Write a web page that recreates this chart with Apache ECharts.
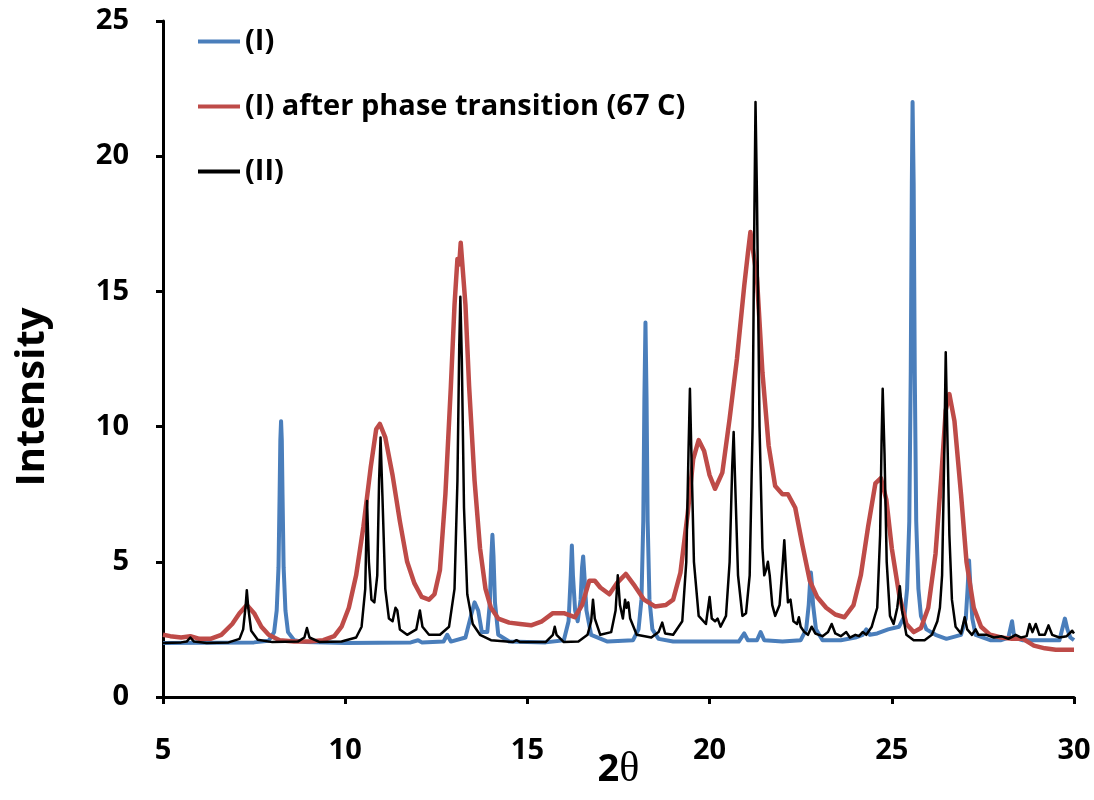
<!DOCTYPE html>
<html>
<head>
<meta charset="utf-8">
<script src="https://cdn.jsdelivr.net/npm/echarts@6/dist/echarts.min.js"></script>
<style>html,body{margin:0;padding:0;background:#fff}#c{width:1094px;height:800px}</style>
</head>
<body>
<div id="c"></div>
<script>
const seriesNames = ['(I)', '(I) after phase transition (67 C)', '(II)'];
const xTicks = [5, 10, 15, 20, 25, 30];
const yTicks = [0, 5, 10, 15, 20, 25];

const dataI = [[5.0,2.0],[7.5,2.02],[7.9,2.08],[8.05,2.4],[8.12,3.2],[8.17,4.8],[8.2,7.5],[8.22,9.5],[8.24,10.2],[8.26,9.5],[8.28,7.5],[8.31,4.8],[8.36,3.2],[8.43,2.4],[8.6,2.1],[8.9,2.03],[10.0,2.0],[11.8,2.02],[12.0,2.1],[12.1,2.02],[12.7,2.05],[12.8,2.3],[12.9,2.05],[13.3,2.2],[13.45,3.0],[13.55,3.5],[13.65,3.2],[13.75,2.4],[13.9,2.4],[13.97,3.5],[14.01,5.2],[14.04,6.0],[14.07,5.2],[14.11,3.5],[14.2,2.3],[14.5,2.05],[15.5,2.02],[16.0,2.1],[16.13,2.8],[16.19,4.5],[16.22,5.6],[16.25,4.5],[16.31,3.2],[16.38,2.8],[16.46,3.6],[16.5,4.8],[16.53,5.2],[16.56,4.6],[16.62,3.2],[16.75,2.3],[17.2,2.05],[17.9,2.1],[18.05,2.5],[18.13,3.6],[18.18,6.5],[18.21,11.0],[18.24,13.85],[18.27,11.0],[18.3,6.5],[18.35,3.6],[18.43,2.5],[18.6,2.15],[19.0,2.05],[20.8,2.05],[20.95,2.35],[21.05,2.1],[21.3,2.1],[21.4,2.4],[21.5,2.1],[22.0,2.05],[22.5,2.1],[22.65,2.5],[22.72,3.4],[22.76,4.3],[22.78,4.6],[22.8,4.3],[22.84,3.4],[22.92,2.5],[23.1,2.1],[23.6,2.1],[24.0,2.2],[24.2,2.3],[24.3,2.5],[24.4,2.3],[24.6,2.35],[24.9,2.5],[25.2,2.6],[25.35,3.0],[25.42,4.0],[25.48,6.5],[25.52,12.0],[25.55,19.0],[25.57,22.0],[25.6,19.0],[25.63,12.0],[25.67,6.5],[25.73,4.0],[25.8,3.0],[25.95,2.5],[26.2,2.3],[26.5,2.15],[26.9,2.3],[27.03,2.9],[27.08,4.0],[27.12,5.05],[27.16,4.0],[27.21,2.9],[27.3,2.3],[27.7,2.1],[28.0,2.1],[28.2,2.2],[28.3,2.8],[28.36,2.2],[28.6,2.1],[29.0,2.1],[29.6,2.1],[29.75,2.9],[29.82,2.5],[29.9,2.2],[30.0,2.1]];

const dataIpt = [[5.0,2.3],[5.2,2.25],[5.5,2.2],[5.75,2.25],[6.0,2.15],[6.3,2.15],[6.6,2.3],[6.9,2.7],[7.1,3.1],[7.3,3.4],[7.5,3.1],[7.7,2.6],[7.9,2.3],[8.2,2.1],[8.6,2.05],[9.0,2.05],[9.4,2.1],[9.7,2.25],[9.9,2.6],[10.1,3.3],[10.3,4.5],[10.5,6.3],[10.7,8.5],[10.85,9.9],[10.95,10.1],[11.1,9.6],[11.3,8.2],[11.5,6.5],[11.7,5.0],[11.9,4.2],[12.1,3.7],[12.3,3.6],[12.45,3.8],[12.6,4.7],[12.75,7.5],[12.9,11.5],[13.0,14.5],[13.08,16.2],[13.13,16.0],[13.17,16.8],[13.3,14.5],[13.4,11.5],[13.55,8.0],[13.7,5.5],[13.85,4.0],[14.0,3.3],[14.2,2.9],[14.5,2.75],[14.8,2.7],[15.1,2.65],[15.4,2.8],[15.7,3.1],[16.0,3.1],[16.3,2.95],[16.5,3.4],[16.7,4.3],[16.85,4.3],[17.0,4.05],[17.25,3.8],[17.45,4.2],[17.7,4.55],[17.95,4.1],[18.2,3.6],[18.5,3.35],[18.8,3.4],[19.0,3.6],[19.2,4.6],[19.4,6.8],[19.55,8.8],[19.7,9.5],[19.85,9.1],[20.0,8.2],[20.15,7.7],[20.35,8.3],[20.55,10.3],[20.75,12.5],[20.95,15.2],[21.05,16.4],[21.12,17.2],[21.3,15.5],[21.45,12.0],[21.62,9.3],[21.8,7.8],[22.0,7.5],[22.15,7.5],[22.35,7.0],[22.55,5.6],[22.75,4.3],[22.95,3.7],[23.2,3.3],[23.45,3.05],[23.7,2.95],[23.95,3.4],[24.15,4.5],[24.35,6.3],[24.55,7.9],[24.7,8.1],[24.85,7.3],[25.0,5.5],[25.2,3.8],[25.4,2.7],[25.6,2.4],[25.8,2.55],[26.0,3.3],[26.2,5.3],[26.35,8.0],[26.48,10.6],[26.58,11.2],[26.72,10.2],[26.9,7.5],[27.05,5.0],[27.25,3.3],[27.45,2.6],[27.7,2.3],[28.0,2.2],[28.3,2.15],[28.6,2.15],[28.9,1.9],[29.2,1.8],[29.5,1.75],[30.0,1.75]];

const dataII = [[5.0,2.0],[5.5,2.02],[5.65,2.05],[5.75,2.2],[5.85,2.05],[6.2,2.0],[6.8,2.02],[7.1,2.15],[7.2,2.5],[7.27,3.4],[7.3,3.95],[7.34,3.3],[7.42,2.45],[7.6,2.12],[8.0,2.03],[8.7,2.05],[8.88,2.2],[8.95,2.55],[9.02,2.2],[9.3,2.03],[9.9,2.05],[10.3,2.2],[10.45,2.6],[10.55,4.0],[10.6,7.25],[10.65,5.0],[10.72,3.6],[10.8,3.5],[10.88,4.5],[10.93,8.0],[10.97,9.6],[11.02,7.5],[11.1,4.0],[11.2,2.9],[11.3,2.8],[11.38,3.3],[11.43,3.2],[11.5,2.5],[11.7,2.3],[11.95,2.5],[12.05,3.2],[12.12,2.6],[12.3,2.3],[12.6,2.3],[12.85,2.6],[13.0,4.0],[13.08,8.0],[13.13,13.0],[13.16,14.8],[13.2,12.5],[13.26,7.0],[13.35,3.8],[13.5,2.7],[13.7,2.3],[14.0,2.1],[14.6,2.03],[14.7,2.1],[14.8,2.03],[15.5,2.03],[15.7,2.3],[15.75,2.6],[15.8,2.3],[16.0,2.03],[16.4,2.05],[16.65,2.3],[16.75,2.8],[16.8,3.6],[16.85,2.9],[17.0,2.3],[17.3,2.4],[17.42,3.2],[17.48,4.5],[17.54,3.4],[17.62,2.9],[17.68,3.6],[17.72,3.3],[17.77,3.5],[17.82,2.9],[18.0,2.3],[18.4,2.2],[18.6,2.4],[18.7,2.75],[18.78,2.35],[19.0,2.3],[19.25,2.8],[19.36,5.0],[19.42,9.0],[19.46,11.4],[19.5,9.0],[19.57,5.0],[19.7,3.0],[19.9,2.7],[20.0,3.7],[20.06,2.9],[20.15,2.8],[20.22,2.9],[20.3,2.6],[20.45,3.0],[20.55,5.0],[20.62,8.5],[20.66,9.8],[20.7,8.0],[20.78,4.5],[20.9,3.0],[21.0,3.1],[21.1,4.5],[21.18,10.0],[21.23,18.0],[21.26,22.0],[21.3,18.5],[21.37,10.0],[21.45,5.5],[21.5,4.5],[21.55,4.7],[21.6,5.0],[21.65,4.5],[21.72,3.4],[21.8,3.0],[21.92,3.4],[22.0,4.8],[22.05,5.8],[22.1,4.6],[22.15,3.5],[22.22,3.6],[22.3,2.8],[22.4,2.7],[22.45,2.95],[22.5,2.6],[22.6,2.4],[22.7,2.3],[22.8,2.6],[22.9,2.35],[23.0,2.3],[23.1,2.25],[23.25,2.4],[23.35,2.7],[23.45,2.35],[23.6,2.25],[23.75,2.4],[23.85,2.2],[24.0,2.3],[24.1,2.25],[24.2,2.4],[24.3,2.3],[24.45,2.6],[24.6,3.3],[24.68,6.0],[24.72,9.5],[24.75,11.4],[24.8,9.0],[24.86,5.0],[24.95,3.0],[25.05,2.7],[25.15,3.3],[25.22,4.1],[25.28,3.2],[25.4,2.3],[25.6,2.1],[25.9,2.1],[26.1,2.3],[26.25,2.8],[26.32,3.3],[26.38,4.5],[26.44,9.0],[26.48,12.75],[26.52,10.0],[26.58,6.0],[26.65,3.6],[26.75,2.6],[26.9,2.35],[27.0,2.95],[27.07,2.5],[27.2,2.3],[27.3,2.5],[27.38,2.3],[27.6,2.3],[27.8,2.2],[28.0,2.25],[28.2,2.15],[28.4,2.3],[28.55,2.2],[28.7,2.25],[28.78,2.7],[28.86,2.4],[28.95,2.7],[29.05,2.3],[29.2,2.3],[29.3,2.65],[29.4,2.3],[29.6,2.2],[29.8,2.25],[29.95,2.45],[30.0,2.35]];

const colors = ['#4a7ebb', '#be4b48', '#000000'];
const widths = [4, 4.5, 2.5];
const FONT = '"Open Sans", "Noto Sans", sans-serif';

const chart = echarts.init(document.getElementById('c'));
const datasets = [dataI, dataIpt, dataII];
const legendTops = [22, 87, 152];
chart.setOption({
  animation: false,
  backgroundColor: '#fff',
  grid: { left: 163, right: 20, top: 21, bottom: 103, containLabel: false, outerBoundsMode: 'none' },
  legend: seriesNames.map((n, i) => ({
    data: [n],
    left: 193,
    top: legendTops[i],
    icon: 'rect',
    itemWidth: 42,
    itemHeight: 4,
    itemGap: 4,
    textStyle: { color: '#000', fontSize: 29, fontWeight: 'bold', fontFamily: FONT },
    selectedMode: false
  })),
  xAxis: {
    type: 'value', min: 5, max: 30, interval: 5,
    name: '{a|2}{b|θ}', nameLocation: 'middle', nameGap: 52, nameMoveOverlap: false,
    nameTextStyle: {
      color: '#000',
      rich: {
        a: { fontSize: 38, fontWeight: 'bold', fontFamily: FONT, color: '#000' },
        b: { fontSize: 42, fontFamily: '"Liberation Serif", "DejaVu Serif", serif', color: '#000' }
      }
    },
    axisLine: { show: true, lineStyle: { color: '#000', width: 3 } },
    axisTick: { show: true, inside: false, length: 7, lineStyle: { color: '#000', width: 3 } },
    axisLabel: { color: '#000', fontSize: 29, fontWeight: 'bold', fontFamily: FONT, margin: 39 },
    splitLine: { show: false }
  },
  yAxis: {
    type: 'value', min: 0, max: 25, interval: 5,
    name: 'Intensity', nameLocation: 'middle', nameGap: 110, nameRotate: 90,
    nameTextStyle: { color: '#000', fontSize: 40, fontWeight: 'bold', fontFamily: FONT, padding: [0, 76, 0, 0] },
    axisLine: { show: true, lineStyle: { color: '#000', width: 3 } },
    axisTick: { show: true, inside: false, length: 7, lineStyle: { color: '#000', width: 3 } },
    axisLabel: { color: '#000', fontSize: 29, fontWeight: 'bold', fontFamily: FONT, margin: 34 },
    splitLine: { show: false }
  },
  series: datasets.map((d, i) => ({
    name: seriesNames[i],
    type: 'line',
    data: d,
    showSymbol: false,
    symbol: 'none',
    smooth: false,
    z: 2 + i,
    itemStyle: { color: colors[i] },
    lineStyle: { color: colors[i], width: widths[i], join: 'round' }
  }))
});
</script>
</body>
</html>
